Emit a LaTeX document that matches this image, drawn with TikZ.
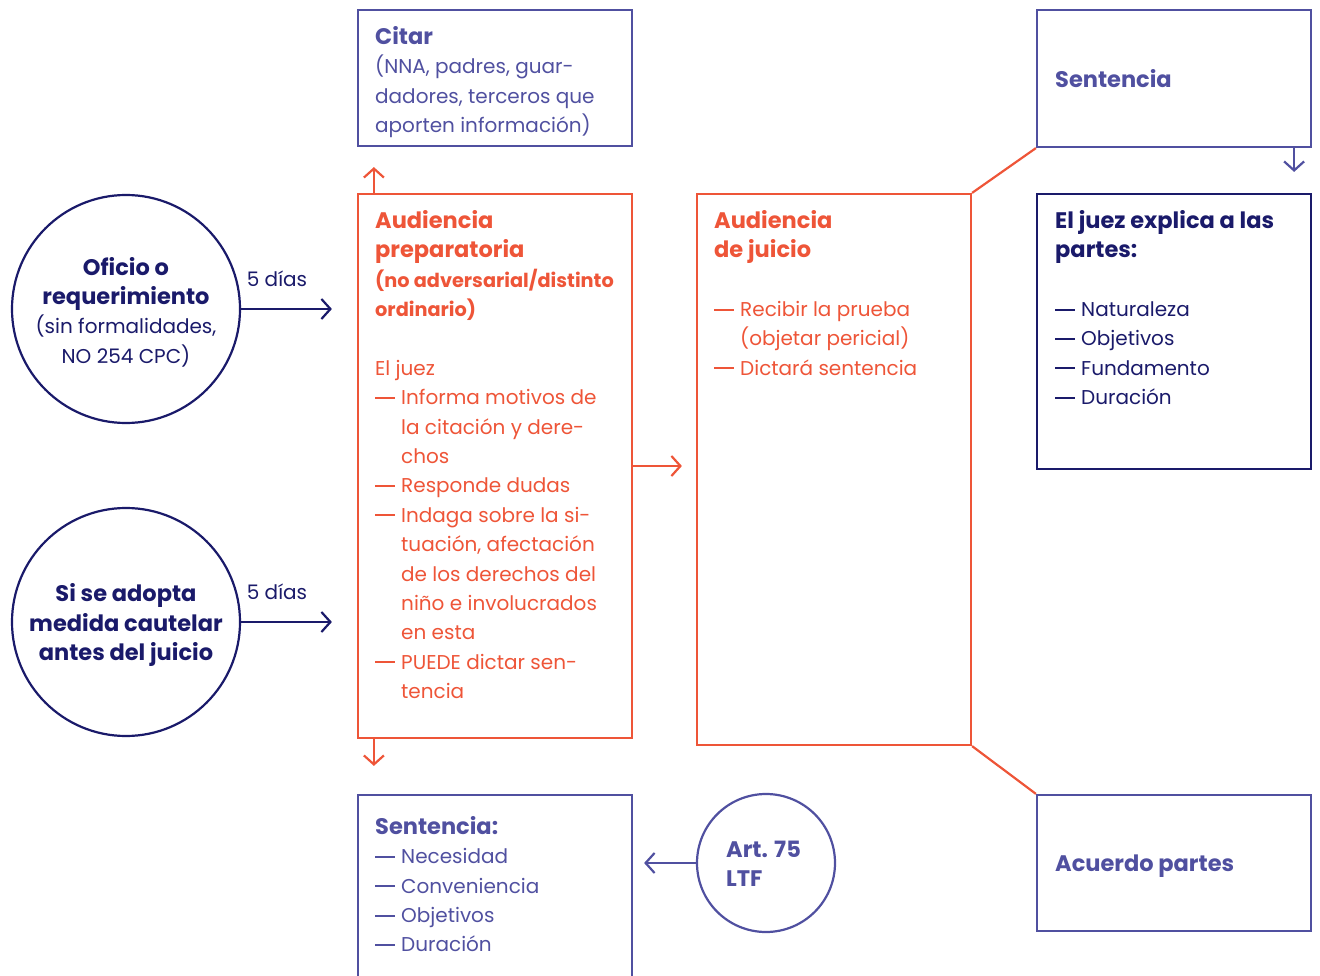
\documentclass[tikz,border=0pt]{standalone}
\usepackage{fontspec}
\setmainfont{Poppins}
\usetikzlibrary{arrows.meta}
\definecolor{navy}{HTML}{1A1A6A}
\definecolor{lav}{HTML}{5050A0}
\definecolor{orng}{HTML}{EE5538}
\tikzset{
  box/.style={draw, rectangle, line width=2.2pt, minimum width=274pt, inner sep=0pt},
  circ/.style={draw, circle, line width=2.2pt, minimum size=228pt, inner sep=0pt},
  txt/.style={inner sep=0pt, align=left, anchor=north west, font=\fontsize{20}{29.4}\selectfont},
  ctxt/.style={inner sep=0pt, align=center, font=\fontsize{20}{29.4}\selectfont},
  lbl/.style={inner sep=0pt, font=\fontsize{20}{24}\selectfont},
  arr/.style={line width=2.2pt, -{Straight Barb[length=9pt,width=20pt,line width=2.2pt]}},
  lnk/.style={line width=2.2pt},
}
\newcommand{\hd}[1]{{\fontsize{22.5}{29.4}\selectfont\bfseries #1}}
\newcommand{\sh}[1]{{\fontsize{19.3}{29.4}\selectfont\bfseries #1}}
\newcommand{\dsh}{\makebox[26pt][l]{\rule[5.9pt]{19.5pt}{2pt}}}
\newcommand{\ind}{\hspace*{26pt}}
\begin{document}
\begin{tikzpicture}[x=1pt,y=-1pt]
\useasboundingbox (0,0) rectangle (1320,976);
% circles left
\node[circ, navy] (c1) at (126,309) {};
\node[ctxt, navy] (c1t) at (126,312) {\hd{Oficio o}\\\hd{requerimiento}\\(sin formalidades,\\NO 254 CPC)};
\node[circ, navy] (c2) at (126,622) {};
\node[ctxt, navy] (c2t) at (126,625) {\hd{Si se adopta}\\\hd{medida cautelar}\\\hd{antes del juicio}};
% citar
\node[box, lav, minimum height=136pt] (citar) at (495,78) {};
\node[txt, lav] (citart) at (375,26) {\hd{Citar}\\(NNA, padres, guar-\\dadores, terceros que\\aporten información)};
% preparatoria
\node[box, orng, minimum height=544pt] (prep) at (495,466) {};
\node[txt, orng] (prept) at (375,210) {\hd{Audiencia}\\\hd{preparatoria}\\\sh{(no adversarial/distinto}\\\sh{ordinario)}\\[29.4pt]
El juez\\\dsh Informa motivos de\\\ind la citación y dere-\\\ind chos\\\dsh Responde dudas\\\dsh Indaga sobre la si-\\\ind tuación, afectación\\\ind de los derechos del\\\ind niño e involucrados\\\ind en esta\\\dsh PUEDE dictar sen-\\\ind tencia};
% sentencia bottom
\node[box, lav, minimum height=200pt] (sent2) at (495,895) {};
\node[txt, lav] (sent2t) at (375,816) {\hd{Sentencia:}\\\dsh Necesidad\\\dsh Conveniencia\\\dsh Objetivos\\\dsh Duración};
% juicio
\node[box, orng, minimum height=551pt] (juicio) at (834,469.5) {};
\node[txt, orng] (juiciot) at (714,210) {\hd{Audiencia}\\\hd{de juicio}\\[29.4pt]\dsh Recibir la prueba\\\ind (objetar pericial)\\\dsh Dictará sentencia};
% right column
\node[box, lav, minimum height=137pt] (sent1) at (1174,78.5) {};
\node[txt, lav, anchor=west] (sent1t) at (1055,79) {\hd{Sentencia}};
\node[box, navy, minimum height=275pt] (juez) at (1174,331.5) {};
\node[txt, navy] (juezt) at (1055,210) {\hd{El juez explica a las}\\\hd{partes:}\\[29.4pt]\dsh Naturaleza\\\dsh Objetivos\\\dsh Fundamento\\\dsh Duración};
\node[box, lav, minimum height=136pt] (acuerdo) at (1174,863) {};
\node[txt, lav, anchor=west] (acuerdot) at (1055,866.5) {\hd{Acuerdo partes}};
% art 75
\node[circ, lav, minimum size=138pt] (art) at (766,863) {};
\node[txt, lav, anchor=west] (artt) at (726,864) {\hd{Art. 75}\\\hd{LTF}};
% connectors
\draw[arr, navy, shorten >=25pt] (c1.east) -- (c1.east -| prep.west) node[lbl, pos=0.31, yshift=30pt, text=navy] (d1) {5 días};
\draw[arr, navy, shorten >=25pt] (c2.east) -- (c2.east -| prep.west) node[lbl, pos=0.31, yshift=30pt, text=navy] (d2) {5 días};
\draw[arr, orng, shorten >=20pt] ([xshift=17pt]prep.north west) -- ([xshift=17pt]citar.south west);
\draw[arr, orng, shorten >=28pt] ([xshift=17pt]prep.south west) -- ([xshift=17pt]sent2.north west);
\draw[arr, orng, shorten >=14pt] (prep.east) -- (prep.east -| juicio.west);
\draw[lnk, orng] (juicio.north east) -- (sent1.south west);
\draw[lnk, orng] (juicio.south east) -- (acuerdo.north west);
\draw[arr, lav, shorten >=21pt] ([xshift=-18pt]sent1.south east) -- ([xshift=-18pt]juez.north east);
\draw[arr, lav, shorten >=11pt] (art.west) -- (art.west -| sent2.east);
\end{tikzpicture}
\end{document}
